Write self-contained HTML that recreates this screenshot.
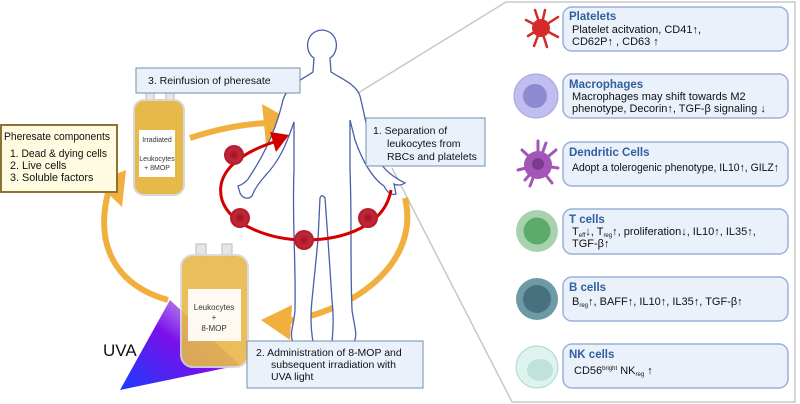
<!DOCTYPE html>
<html><head><meta charset="utf-8"><style>
html,body{margin:0;padding:0;background:#fff;width:800px;height:404px;overflow:hidden}
svg{display:block}
text{font-family:"Liberation Sans",sans-serif}
</style></head><body>
<svg width="800" height="404" viewBox="0 0 800 404" xmlns="http://www.w3.org/2000/svg">
<defs>
<linearGradient id="uva" x1="0" y1="1" x2="1" y2="0">
<stop offset="0" stop-color="#1a3cff"/><stop offset="0.5" stop-color="#7a10e8"/><stop offset="1" stop-color="#c9a0f0" stop-opacity="0.6"/>
</linearGradient>
<radialGradient id="rbc"><stop offset="0" stop-color="#9e1020"/><stop offset="0.6" stop-color="#c2283a"/><stop offset="1" stop-color="#b01a2a"/></radialGradient>
</defs>
<!-- right panel -->
<path d="M358,93 L506,2 L795,2 L795,402 L512,402 L392,168" fill="#fff" stroke="#c8c8c8" stroke-width="1.5"/>
<!-- cell rows -->
<g font-size="11" fill="#111">
<rect x="563" y="7" width="225" height="44" rx="9" fill="#eaf1fb" stroke="#9ab0d8" stroke-width="1.5"/>
<text x="569" y="20" font-weight="bold" fill="#2f5f9e" font-size="11.5">Platelets</text>
<text x="572" y="33">Platelet acitvation, CD41↑,</text>
<text x="572" y="45">CD62P↑ , CD63 ↑</text>
<rect x="563" y="74" width="225" height="44" rx="9" fill="#eaf1fb" stroke="#9ab0d8" stroke-width="1.5"/>
<text x="569" y="88" font-weight="bold" fill="#2f5f9e" font-size="11.5">Macrophages</text>
<text x="572" y="100">Macrophages may shift towards M2</text>
<text x="572" y="112">phenotype, Decorin↑, TGF-β signaling ↓</text>
<rect x="563" y="142" width="225" height="44" rx="9" fill="#eaf1fb" stroke="#9ab0d8" stroke-width="1.5"/>
<text x="569" y="156" font-weight="bold" fill="#2f5f9e" font-size="11.5">Dendritic Cells</text>
<text x="572" y="171" textLength="207" lengthAdjust="spacingAndGlyphs">Adopt a tolerogenic phenotype, IL10↑, GILZ↑</text>
<rect x="563" y="209" width="225" height="45" rx="9" fill="#eaf1fb" stroke="#9ab0d8" stroke-width="1.5"/>
<text x="569" y="223" font-weight="bold" fill="#2f5f9e" font-size="11.5">T cells</text>
<text x="572" y="235">T<tspan font-size="6" dy="2">eff</tspan><tspan dy="-2">↓, T</tspan><tspan font-size="6" dy="2">reg</tspan><tspan dy="-2">↑, proliferation↓, IL10↑, IL35↑,</tspan></text>
<text x="572" y="247">TGF-β↑</text>
<rect x="563" y="277" width="225" height="44" rx="9" fill="#eaf1fb" stroke="#9ab0d8" stroke-width="1.5"/>
<text x="569" y="291" font-weight="bold" fill="#2f5f9e" font-size="11.5">B cells</text>
<text x="572" y="305">B<tspan font-size="6" dy="2">reg</tspan><tspan dy="-2">↑, BAFF↑, IL10↑, IL35↑, TGF-β↑</tspan></text>
<rect x="563" y="344" width="225" height="44" rx="9" fill="#eaf1fb" stroke="#9ab0d8" stroke-width="1.5"/>
<text x="569" y="358" font-weight="bold" fill="#2f5f9e" font-size="11.5">NK cells</text>
<text x="574" y="374">CD56<tspan font-size="6" dy="-4">bright</tspan><tspan dy="4"> NK</tspan><tspan font-size="6" dy="2">reg</tspan><tspan dy="-2"> ↑</tspan></text>
</g>
<!-- cell icons -->
<g stroke="#d42a2a" stroke-width="2.5" stroke-linecap="round" fill="none">
<path d="M541,28 L526,20 M541,28 L528,36 M541,28 L545,10 M541,28 L558,17 M541,28 L558,37 M541,28 L547,47 M541,28 L534,46 M541,28 L535,10"/>
</g>
<circle cx="541" cy="28" r="9" fill="#d42a2a"/>
<circle cx="536" cy="96" r="22" fill="#c0bdf0" stroke="#a9a4e2"/>
<circle cx="535" cy="96" r="12" fill="#8f89cf"/>
<g stroke="#a456b8" stroke-width="3" stroke-linecap="round"><path d="M538,165 L522,150 M538,165 L538,141 M538,165 L556,150 M538,165 L558,168 M538,165 L552,183 M538,165 L530,186 M538,165 L518,170 M538,165 L546,143 M538,165 L525,180"/></g>
<circle cx="538" cy="165" r="14" fill="#a456b8"/><circle cx="538" cy="164" r="6" fill="#7c3a8e"/>
<circle cx="537" cy="231" r="21" fill="#a8d2ac"/><circle cx="537" cy="231" r="13.5" fill="#5eaa6c"/>
<circle cx="537" cy="299" r="21" fill="#6d9aa5"/><circle cx="537" cy="299" r="14" fill="#48717f"/>
<circle cx="537" cy="367" r="21" fill="#def2ee" stroke="#a8d8d0"/><ellipse cx="540" cy="370" rx="13" ry="11" fill="#bfe2dc"/>
<!-- UVA -->
<polygon points="120,390 170,300 240,365" fill="url(#uva)"/>
<text x="103" y="356" font-size="17" fill="#111">UVA</text>
<!-- orange arrows -->
<g fill="none" stroke="#f1b03e" stroke-width="6">
<path d="M190,138 C220,128 245,124 268,123"/>
<path d="M168,300 C115,285 95,245 108,193"/>
<path d="M405,198 C420,260 360,310 283,322"/>
</g>
<polygon points="294,122 262,104 266,144" fill="#f1b03e"/>
<polygon points="126,170 96,182 122,207" fill="#f1b03e"/>
<polygon points="261,320 292,305 290,340" fill="#f1b03e"/>
<!-- body -->
<path d="M314,58 C304,52 305,31 322,30 C339,31 340,52 330,58 L331,72 C340,78 356,84 360,96 C366,120 368,140 378,160 C386,172 395,178 405,183 C400,186 396,185 394,184 L396,194 C390,196 386,190 384,186 C372,178 362,160 355,140 L350,120 L350,170 C352,220 350,260 352,310 C354,325 358,335 354,342 L332,342 C333,330 334,318 332,300 L328,240 L325,198 C323,195 321,195 320,198 L318,240 L312,300 C310,318 311,330 313,342 L293,342 C289,334 294,325 295,310 C296,260 292,220 294,170 L294,122 C286,145 280,160 265,176 C258,184 254,190 252,196 C248,200 242,198 240,193 L238,186 C244,184 248,180 250,176 C264,155 276,130 283,100 C288,84 305,78 313,72 Z" fill="#fff" stroke="#4a5fa8" stroke-width="1.3"/>
<!-- red loop -->
<path d="M274,142 C235,155 215,175 222,200 C230,225 270,240 305,240 C345,240 385,225 391,190" fill="none" stroke="#d40000" stroke-width="3"/>
<polygon points="289,135 270,132 276,152" fill="#d40000"/>
<g fill="url(#rbc)">
<circle cx="234" cy="155" r="10"/><circle cx="240" cy="218" r="10"/><circle cx="304" cy="240" r="10"/><circle cx="368" cy="218" r="10"/>
</g>
<!-- bags -->
<rect x="146" y="92" width="8" height="10" fill="#e6e6e6" stroke="#bbb"/><rect x="166" y="92" width="8" height="10" fill="#e6e6e6" stroke="#bbb"/>
<rect x="134" y="100" width="50" height="95" rx="10" fill="#e7b84a" stroke="#d8d8d8" stroke-width="2"/>
<rect x="139" y="130" width="36" height="47" fill="#fff"/>
<text x="157" y="142" font-size="7" text-anchor="middle" fill="#333">Irradiated</text>
<text x="157" y="161" font-size="7" text-anchor="middle" fill="#333">Leukocytes</text>
<text x="157" y="170" font-size="7" text-anchor="middle" fill="#333">+ 8MOP</text>
<rect x="196" y="244" width="10" height="12" fill="#e6e6e6" stroke="#bbb"/><rect x="222" y="244" width="10" height="12" fill="#e6e6e6" stroke="#bbb"/>
<rect x="181" y="255" width="67" height="112" rx="12" fill="#e7b84a" stroke="#d8d8d8" stroke-width="2" opacity="0.9"/>
<rect x="188" y="289" width="53" height="52" fill="#fff" opacity="0.92"/>
<text x="214" y="310" font-size="8" text-anchor="middle" fill="#333">Leukocytes</text>
<text x="214" y="320" font-size="8" text-anchor="middle" fill="#333">+</text>
<text x="214" y="331" font-size="8" text-anchor="middle" fill="#333">8-MOP</text>
<!-- labels -->
<rect x="136" y="68" width="164" height="25" fill="#eaf1fb" stroke="#6d92a8"/>
<text x="148" y="84" font-size="10.5" fill="#111">3. Reinfusion of pheresate</text>
<rect x="366" y="118" width="119" height="48" fill="#eaf1fb" stroke="#6d92a8"/>
<g font-size="10.5" fill="#111"><text x="373" y="134">1.  Separation of</text><text x="387" y="147">leukocytes from</text><text x="387" y="160">RBCs and platelets</text></g>
<rect x="247" y="341" width="176" height="47" fill="#eaf1fb" stroke="#6d92a8"/>
<g font-size="10.5" fill="#111"><text x="256" y="356">2.  Administration of 8-MOP and</text><text x="271" y="368">subsequent irradiation with</text><text x="271" y="380">UVA light</text></g>
<rect x="1" y="125" width="116" height="67" fill="#fffbe0" stroke="#8b7332" stroke-width="2"/>
<g font-size="10.8" fill="#111"><text x="4" y="140" textLength="106" lengthAdjust="spacingAndGlyphs">Pheresate components</text><text x="10" y="157" textLength="97" lengthAdjust="spacingAndGlyphs">1.  Dead &amp; dying cells</text><text x="10" y="169">2.  Live cells</text><text x="10" y="181">3.  Soluble factors</text></g>
</svg>
</body></html>
